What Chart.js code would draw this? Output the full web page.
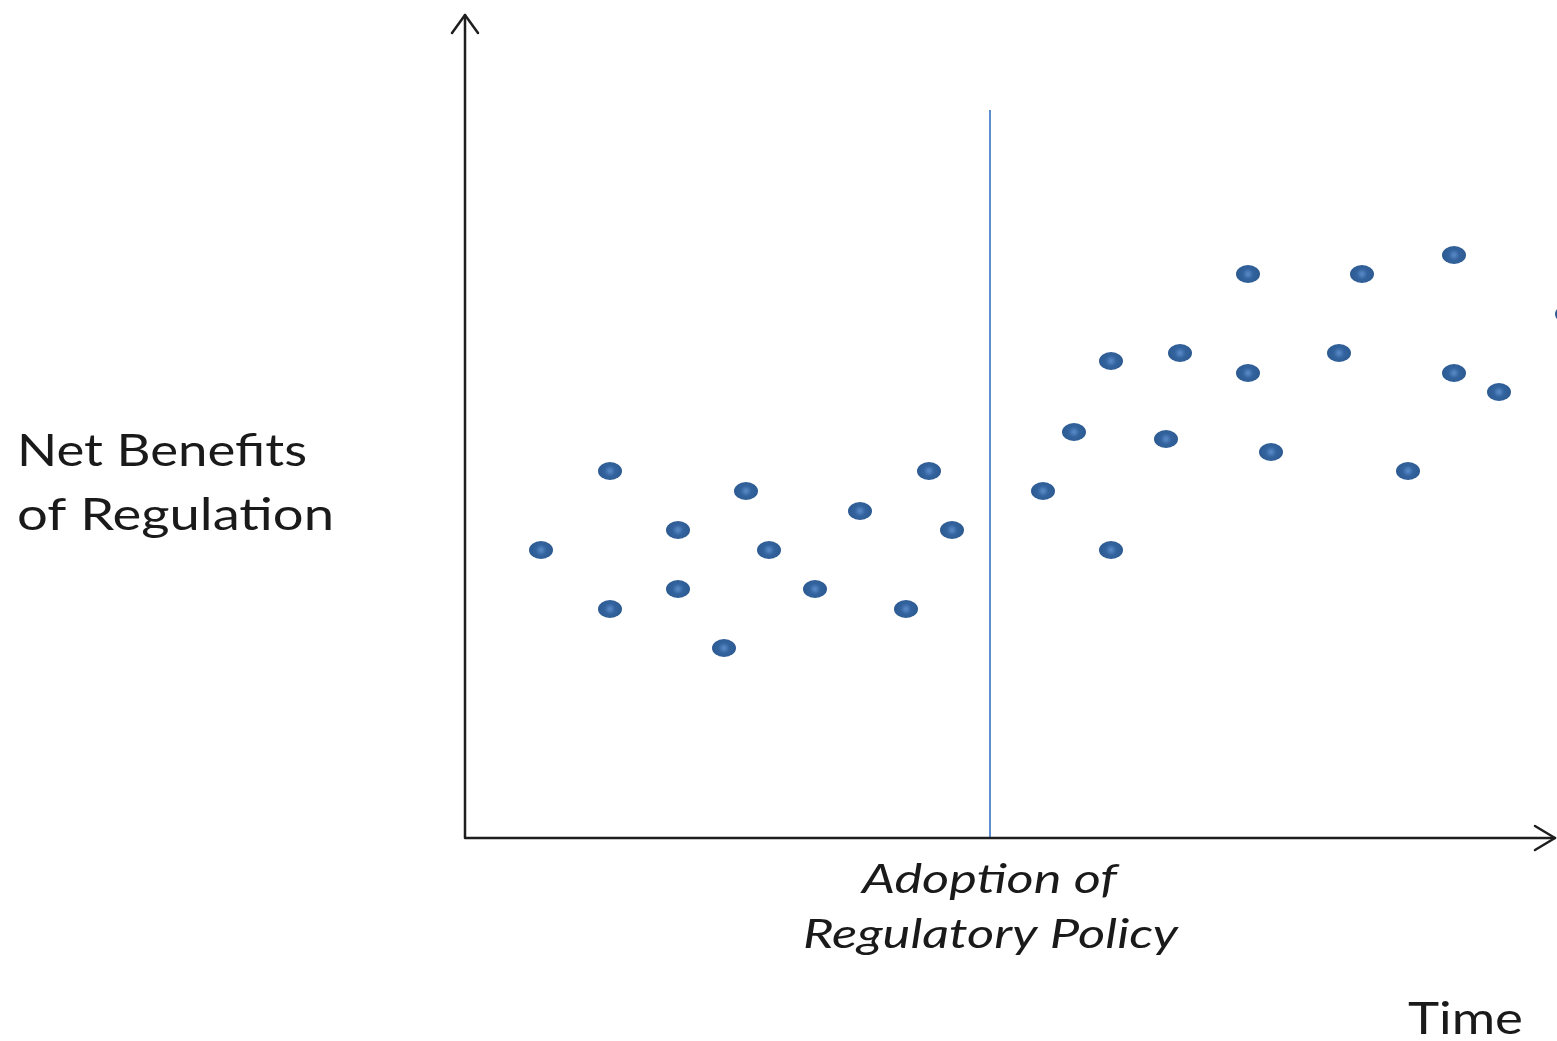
<!DOCTYPE html>
<html>
<head>
<meta charset="utf-8">
<script src="https://cdn.jsdelivr.net/npm/chart.js@4.4.1/dist/chart.umd.min.js"></script>
<style>
  html, body { margin: 0; padding: 0; background: #fff; overflow: hidden; }
  #chart { display: block; }
</style>
</head>
<body>
<canvas id="chart" width="1557" height="1041"></canvas>
<script>
// observations before the policy (time, net benefit) in arbitrary units
const beforeTime = [76, 145, 145, 213, 213, 259, 281, 304, 350, 395, 441, 464, 487];
const beforeBenefit = [288, 367, 229, 308, 249, 190, 347, 288, 249, 327, 229, 367, 308];

// observations after the policy
const afterTime = [578, 609, 646, 646, 701, 715, 783, 783, 806, 874, 897, 943, 989, 989, 1034, 1102];
const afterBenefit = [347, 406, 477, 288, 399, 485, 564, 465, 386, 485, 564, 367, 583, 465, 446, 524];

const adoptionTime = 525;
const adoptionTop = 728;

const yLabelLines = ['Net Benefits', 'of Regulation'];
const adoptionLines = ['Adoption of', 'Regulatory Policy'];
const xLabel = 'Time';

function toPoints(xs, ys) {
  return xs.map((x, i) => ({ x: x, y: ys[i] }));
}

function makeDot() {
  const c = document.createElement('canvas');
  c.width = 26;
  c.height = 20;
  const g = c.getContext('2d');
  const grad = g.createRadialGradient(13, 10, 1, 13, 10, 12);
  grad.addColorStop(0, '#5585c2');
  grad.addColorStop(0.4, '#33639e');
  grad.addColorStop(1, '#2c5990');
  g.fillStyle = grad;
  g.beginPath();
  g.ellipse(13, 10, 12, 9, 0, 0, Math.PI * 2);
  g.fill();
  return c;
}

function drawText(ctx, text, left, baseline, width, font) {
  ctx.save();
  ctx.font = font;
  const w = ctx.measureText(text).width;
  ctx.translate(left, baseline);
  ctx.scale(width / w, 1);
  ctx.fillText(text, 0, 0);
  ctx.restore();
}

const decorations = {
  id: 'decorations',
  afterDraw(chart) {
    const ctx = chart.ctx;
    const area = chart.chartArea;
    const x0 = area.left;
    const y0 = area.bottom;
    const xEnd = chart.width - 2;

    ctx.save();
    ctx.strokeStyle = '#1e1e1e';
    ctx.lineWidth = 2.5;
    ctx.lineCap = 'round';
    ctx.lineJoin = 'round';

    // axes
    ctx.beginPath();
    ctx.moveTo(x0, y0);
    ctx.lineTo(x0, area.top);
    ctx.moveTo(x0, y0);
    ctx.lineTo(xEnd, y0);
    ctx.stroke();

    // arrow heads
    ctx.beginPath();
    ctx.moveTo(x0 - 13, area.top + 18);
    ctx.lineTo(x0, area.top);
    ctx.lineTo(x0 + 13, area.top + 18);
    ctx.moveTo(xEnd - 20, y0 - 12);
    ctx.lineTo(xEnd, y0);
    ctx.lineTo(xEnd - 20, y0 + 12);
    ctx.stroke();

    ctx.fillStyle = '#1a1a1a';
    ctx.textBaseline = 'alphabetic';
    drawText(ctx, yLabelLines[0], 17, 466, 290, '44px Lato');
    drawText(ctx, yLabelLines[1], 17, 530, 317, '44px Lato');
    drawText(ctx, adoptionLines[0], 862, 893, 255, 'italic 40px Lato');
    drawText(ctx, adoptionLines[1], 803, 948, 375, 'italic 40px Lato');
    drawText(ctx, xLabel, 1408, 1034, 115, '44px Lato');
    ctx.restore();
  }
};

const dot = makeDot();

new Chart(document.getElementById('chart'), {
  type: 'scatter',
  data: {
    datasets: [
      {
        type: 'line',
        data: [{ x: adoptionTime, y: 0 }, { x: adoptionTime, y: adoptionTop }],
        borderColor: '#5b8fd0',
        borderWidth: 2,
        pointRadius: 0,
        fill: false
      },
      {
        data: toPoints(beforeTime, beforeBenefit),
        pointStyle: dot,
        pointRadius: 10
      },
      {
        data: toPoints(afterTime, afterBenefit),
        pointStyle: dot,
        pointRadius: 10,
        clip: false
      }
    ]
  },
  options: {
    responsive: false,
    animation: false,
    layout: {
      autoPadding: false,
      padding: { left: 465, right: 0, top: 15, bottom: 203 }
    },
    scales: {
      x: { type: 'linear', min: 0, max: 1092, display: false },
      y: { type: 'linear', min: 0, max: 823, display: false }
    },
    plugins: {
      legend: { display: false },
      tooltip: { enabled: false }
    }
  },
  plugins: [decorations]
});
</script>
</body>
</html>
